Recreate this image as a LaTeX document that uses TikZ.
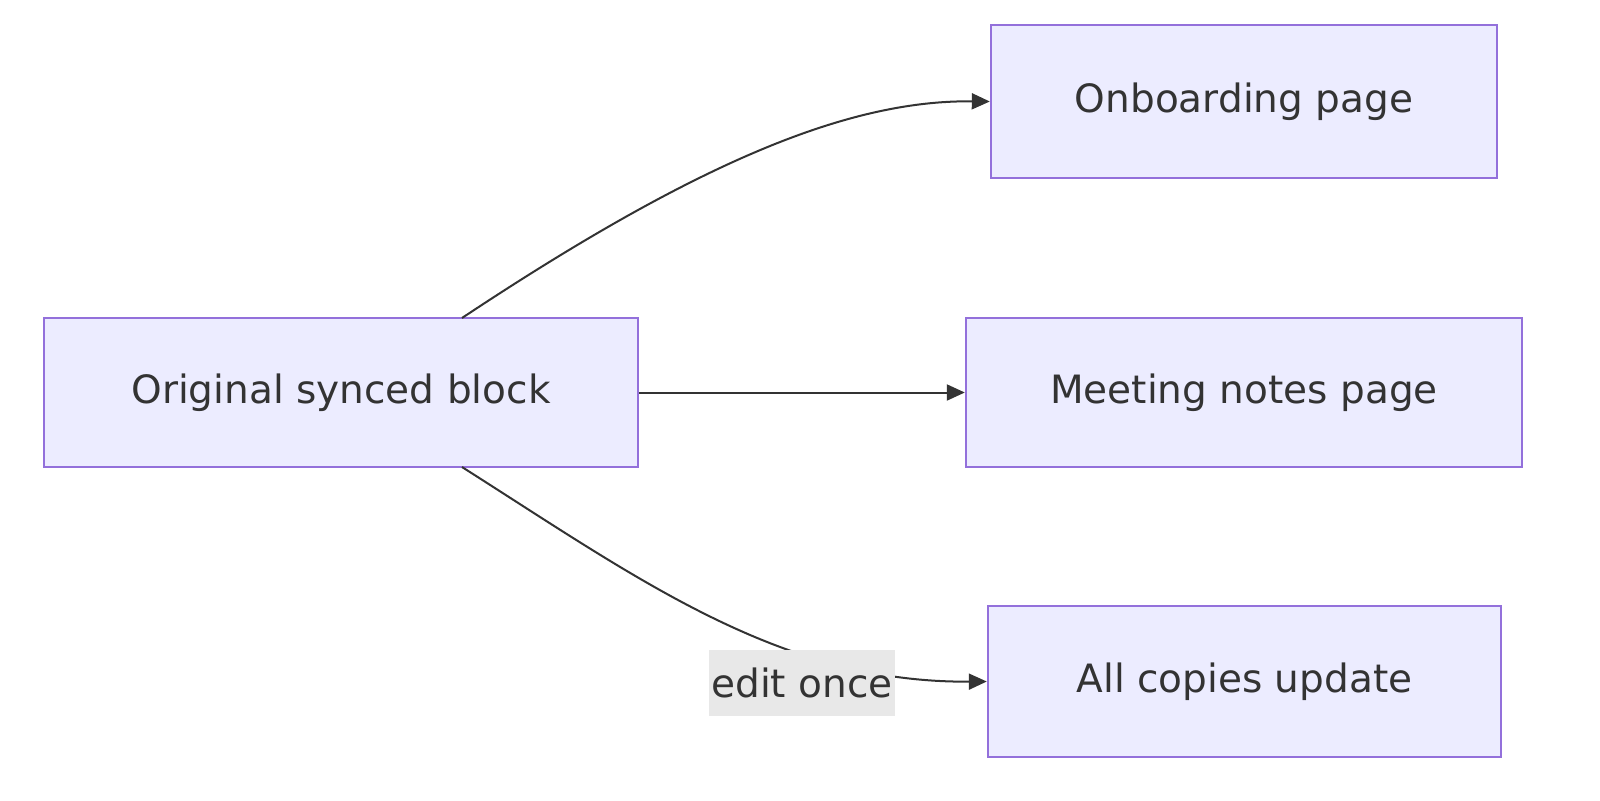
\documentclass[tikz,border=0pt]{standalone}
\usepackage{fontspec}
\setmainfont{DejaVu Sans}
\usetikzlibrary{arrows.meta}
\definecolor{nfill}{HTML}{ECECFF}
\definecolor{nline}{HTML}{9370DB}
\definecolor{eline}{HTML}{333333}
\definecolor{lbg}{HTML}{E8E8E8}
\begin{document}
\begin{tikzpicture}[x=0.5pt,y=-0.5pt,
  box/.style={draw=nline,fill=nfill,line width=1.2pt,inner sep=0pt,font=\fontsize{19.5}{22}\selectfont,text=eline},
  conn/.style={draw=eline,line width=1pt,-{Triangle[length=9pt,width=8pt]}}]
\node[box,minimum width=297pt,minimum height=74.5pt] (o) at (341,392.5) {Original synced block};
\node[box,minimum width=253pt,minimum height=76.5pt] (a) at (1244,101.5) {Onboarding page};
\node[box,minimum width=278pt,minimum height=74.5pt] (m) at (1244,392.5) {Meeting notes page};
\node[box,minimum width=256.5pt,minimum height=75.5pt] (c) at (1244.5,681.5) {All copies update};
\coordinate (o1) at (462,318);
\coordinate (o2) at (462,467);
\draw[conn] (o1) .. controls (700,160) and (850,100) .. (a.west);
\draw[conn] (o.east) -- (m.west);
\draw[conn] (o2) .. controls (640,580) and (780,683) .. (c.west);
\node[fill=lbg,inner sep=0pt,minimum width=93pt,minimum height=33pt,font=\fontsize{19.5}{22}\selectfont,text=eline] (l) at (802,683) {edit once};
\pgfresetboundingbox
\useasboundingbox (0,0) rectangle (1600,800);
\end{tikzpicture}
\end{document}
